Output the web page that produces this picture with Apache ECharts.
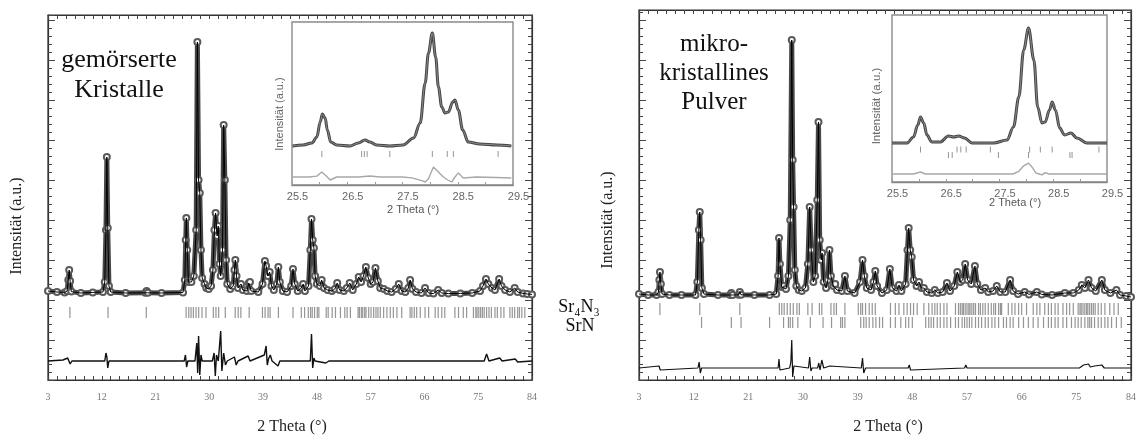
<!DOCTYPE html>
<html>
<head>
<meta charset="utf-8">
<script src="https://cdn.jsdelivr.net/npm/echarts@6/dist/echarts.min.js"></script>
<style>
  html, body { margin: 0; padding: 0; background: #fff; }
  #chart { width: 1139px; height: 436px; }
</style>
</head>
<body>
<div id="chart"></div>
<script>
// ---------- Ground crystals (left panel): [2theta, counts] ----------
const crystalProfile = [
  [3.0, 450], [4.5, 400], [5.8, 380], [6.2, 450], [6.4, 1000], [6.55, 1500], [6.7, 950], [6.9, 420],
  [8.5, 350], [10.5, 380], [12.2, 400], [12.5, 900], [12.7, 3500], [12.85, 7150], [13.0, 3600], [13.2, 700],
  [13.5, 400], [16, 350], [19.3, 360], [19.5, 450], [19.7, 360], [22, 350], [25.6, 380], [25.9, 1000],
  [26.05, 3000], [26.15, 4100], [26.3, 2500], [26.5, 900], [26.75, 1000], [27.0, 900], [27.4, 1200],
  [27.8, 3500], [28.0, 12900], [28.2, 6000], [28.4, 5350], [28.6, 2500], [28.8, 1100], [29.2, 800],
  [29.5, 600], [29.9, 550], [30.3, 700], [30.6, 1500], [30.85, 3500], [31.05, 4350], [31.3, 3200],
  [31.5, 3700], [31.7, 1800], [31.9, 1200], [32.2, 2500], [32.4, 8750], [32.6, 6000], [32.8, 2000],
  [33.0, 800], [33.5, 550], [34.0, 700], [34.2, 1500], [34.35, 2000], [34.55, 1200], [34.8, 600],
  [35.3, 800], [35.6, 500], [36.3, 450], [36.6, 850], [36.8, 900], [37.0, 450], [38.2, 400], [38.9, 800],
  [39.3, 1950], [39.5, 1700], [39.8, 1200], [40.1, 1400], [40.4, 700], [40.8, 500], [41.3, 800],
  [41.55, 1650], [41.8, 900], [42.3, 450], [43.0, 400], [43.7, 700], [44.0, 1550], [44.3, 800],
  [44.8, 450], [45.4, 600], [45.7, 800], [46.0, 450], [46.6, 700], [46.9, 2500], [47.1, 4050],
  [47.3, 3000], [47.5, 2600], [47.7, 1200], [48.0, 800], [48.5, 700], [48.8, 1000], [49.2, 600],
  [49.8, 500], [50.5, 450], [51.0, 550], [51.4, 850], [51.8, 500], [52.5, 450], [53.0, 600], [53.5, 850],
  [54.0, 500], [54.6, 800], [55.0, 1150], [55.4, 900], [55.8, 1200], [56.2, 1650], [56.6, 1100],
  [57.0, 800], [57.4, 900], [57.8, 1600], [58.2, 950], [58.6, 600], [59.2, 550], [59.8, 450], [60.5, 400],
  [61.2, 550], [61.7, 800], [62.2, 450], [62.8, 400], [63.3, 600], [63.6, 1000], [64.0, 550], [64.6, 400],
  [65.5, 350], [66.1, 600], [66.7, 350], [67.5, 320], [68.3, 500], [68.9, 350], [70, 320], [72, 330],
  [74, 350], [75.3, 450], [75.8, 700], [76.3, 1050], [76.7, 800], [77.3, 600], [77.8, 500], [78.5, 1050],
  [78.9, 700], [79.5, 500], [80.3, 400], [81.1, 600], [81.6, 400], [82.5, 330], [83.2, 300], [84, 280]
];
const crystalDiff = [
  [3, 0], [5.5, 50], [6.3, 150], [6.7, -150], [7, 0], [12.5, 0], [12.7, 400], [12.85, 200], [13.0, -350],
  [13.2, 0], [25.8, 0], [26.0, 300], [26.2, -300], [26.4, 0], [27.6, 0], [27.9, 900], [28.05, -600],
  [28.2, 1250], [28.4, -700], [28.6, 300], [28.8, 0], [30.5, 0], [30.8, 400], [31.0, -750], [31.2, 300],
  [31.5, 0], [31.7, 0], [31.9, 1500], [32.1, -500], [32.4, 400], [32.7, -200], [33, 0], [34.2, 200],
  [34.5, -200], [34.8, 0], [36.5, 250], [36.8, 0], [39.2, 300], [39.5, 750], [39.7, -200], [39.9, 100],
  [40.2, 300], [40.5, 0], [41.5, -250], [41.8, 0], [46.9, 0], [47.1, 1350], [47.3, -350], [47.5, 150],
  [47.7, 0], [49.5, -100], [50, 0], [57, 0], [57.3, 100], [57.6, 0], [76.0, 0], [76.4, 350], [76.8, 0],
  [78.6, 150], [79, 0], [81.2, 100], [81.6, -50], [84, 0]
];
const crystalReflections = [
  6.67, 13.05, 19.45, 26.11, 26.56, 26.94, 27.33, 27.78, 28.22, 28.78, 29.44, 30.67, 31.11, 31.56, 32.67,
  34.33, 34.83, 35.28, 36.67, 38.89, 39.33, 39.83, 40.17, 41.56, 44.0, 45.39, 45.94, 46.56, 46.94, 47.22,
  47.61, 48.06, 48.33, 49.56, 49.89, 50.56, 51.11, 51.94, 52.67, 53.06, 53.61, 54.89, 55.11, 55.44, 55.67,
  56.0, 56.22, 56.67, 57.06, 57.5, 57.89, 58.22, 58.61, 59.17, 59.72, 60.28, 60.8, 61.39, 62.2, 63.6, 63.9,
  64.3, 64.7, 65.3, 66.1, 66.7, 67.8, 68.3, 68.9, 69.4, 71.1, 71.7, 72.5, 73.05, 74.2, 74.6, 74.8, 75.1,
  75.4, 75.7, 76.0, 76.4, 76.8, 77.2, 77.8, 78.2, 78.8, 79.3, 80.3, 80.7, 81.1, 81.6, 81.9, 82.3, 82.8
];
// zoomed range 25.5 - 29.5 deg
const crystalZoomProfile = [
  [25.51, 290], [25.70, 400], [25.86, 620], [25.95, 1280], [26.01, 2930], [26.05, 3810], [26.10, 3370],
  [26.14, 2050], [26.20, 730], [26.31, 400], [26.55, 290], [26.70, 620], [26.82, 950], [26.91, 730],
  [27.03, 400], [27.27, 290], [27.51, 400], [27.70, 1170], [27.82, 2820], [27.91, 7220], [27.97, 10520],
  [28.04, 12720], [28.10, 10080], [28.15, 6780], [28.21, 4580], [28.27, 3920], [28.33, 4030], [28.41, 5130],
  [28.45, 5350], [28.51, 4250], [28.59, 2050], [28.69, 730], [28.90, 510], [29.20, 400], [29.47, 290]
];
const crystalZoomDiff = [
  [25.51, 0], [25.8, 0], [25.95, 100], [26.04, 550], [26.12, 100], [26.19, -330], [26.31, 0], [26.7, 0],
  [26.91, 110], [27.1, 0], [27.5, 0], [27.67, -100], [27.85, -400], [27.91, -550], [27.97, -200],
  [28.06, 1100], [28.15, 550], [28.24, 0], [28.32, -330], [28.39, -550], [28.45, 0], [28.51, 450],
  [28.6, -110], [28.84, 0], [29.2, -50], [29.47, -110]
];
const crystalZoomReflections = [26.04, 26.76, 26.81, 26.86, 27.27, 28.04, 28.31, 28.42, 29.23];

// ---------- Microcrystalline powder (right panel) ----------
const powderProfile = [
  [3.0, 300], [4.5, 250], [5.9, 250], [6.2, 400], [6.35, 1000], [6.45, 1400], [6.6, 800], [6.8, 300],
  [8, 250], [10, 250], [12.3, 250], [12.6, 900], [12.85, 3500], [13.0, 4400], [13.15, 3000], [13.35, 600],
  [13.7, 300], [16, 250], [18.0, 250], [18.2, 350], [18.4, 250], [19.4, 260], [19.6, 400], [19.8, 260],
  [22, 250], [24.5, 250], [25.6, 300], [25.9, 1200], [26.05, 3100], [26.2, 1800], [26.5, 650], [26.8, 700],
  [27.2, 550], [27.6, 1200], [27.9, 4000], [28.15, 13000], [28.3, 7000], [28.45, 4650], [28.65, 1500],
  [28.9, 700], [29.3, 500], [29.8, 450], [30.4, 600], [30.8, 1800], [31.1, 4650], [31.35, 2500],
  [31.7, 900], [32.0, 1200], [32.35, 5000], [32.55, 8900], [32.75, 3000], [33.0, 2000], [33.15, 2350],
  [33.4, 900], [33.8, 600], [34.1, 1000], [34.35, 2500], [34.6, 1200], [35.0, 700], [35.3, 800],
  [35.6, 500], [36.4, 450], [36.9, 1200], [37.3, 450], [38.5, 350], [39.4, 900], [39.8, 2000],
  [40.1, 1200], [40.5, 600], [41.2, 500], [41.6, 900], [41.9, 1450], [42.2, 700], [43.0, 350], [43.8, 500],
  [44.3, 1550], [44.7, 600], [45.4, 450], [45.8, 750], [46.2, 450], [46.9, 800], [47.2, 2500],
  [47.4, 3600], [47.65, 2500], [47.9, 2150], [48.2, 1000], [48.7, 700], [49.1, 900], [49.5, 600],
  [49.9, 600], [50.4, 400], [51.2, 350], [51.7, 500], [52.2, 350], [53.0, 400], [53.7, 850], [54.2, 450],
  [54.9, 700], [55.4, 1400], [55.9, 900], [56.3, 1000], [56.7, 1800], [57.1, 1000], [57.7, 800],
  [58.3, 1700], [58.7, 800], [59.3, 500], [60.0, 600], [60.5, 400], [61.3, 450], [61.9, 700], [62.5, 400],
  [63.3, 400], [64.1, 1000], [64.6, 450], [65.4, 300], [66.5, 400], [67.2, 280], [68.5, 400], [69.3, 280],
  [71, 250], [73.1, 350], [74.5, 350], [75.4, 500], [75.9, 750], [76.4, 600], [77.0, 1000], [77.5, 600],
  [78.2, 450], [79.2, 1000], [79.7, 500], [80.6, 350], [81.6, 500], [82.2, 250], [83.2, 200], [84, 150]
];
const powderDiff = [
  [3, 0], [6.3, 100], [6.5, -100], [6.7, 0], [12.7, 0], [12.9, 300], [13.1, -250], [13.3, 0], [25.9, 0],
  [26.05, 450], [26.2, -100], [26.4, 0], [27.8, 0], [28.0, 300], [28.15, 1400], [28.3, -450], [28.5, 100],
  [28.7, 0], [30.9, 0], [31.1, 550], [31.3, -150], [31.5, 0], [32.4, 0], [32.6, 250], [32.8, -100],
  [33.1, 400], [33.4, 0], [34.4, 100], [34.7, 0], [39.6, 0], [39.8, 500], [40.0, -250], [40.3, 0],
  [47.3, 0], [47.5, 150], [47.7, -100], [48, 0], [56.6, 0], [56.8, 150], [57, 0], [75.5, 0], [76.2, 150],
  [76.5, 50], [77.0, 200], [77.3, 50], [78.0, 100], [79.2, 150], [79.6, 0], [84, 0]
];
const powderReflectionsSr4N3 = [
  6.44, 13.0, 19.6, 26.1, 26.5, 26.9, 27.4, 27.9, 28.4, 29.0, 29.4, 30.8, 31.5, 32.7, 33.1, 34.6, 35.1,
  35.5, 36.9, 39.1, 39.5, 39.8, 40.3, 40.9, 41.4, 41.9, 44.4, 45.2, 45.8, 46.6, 47.15, 47.7, 48.2, 48.8,
  49.9, 50.7, 51.25, 51.7, 52.1, 52.6, 53.2, 53.7, 55.1, 55.6, 55.9, 56.2, 56.4, 56.7, 57.0, 57.3, 57.5,
  57.8, 58.1, 58.4, 58.9, 59.2, 59.6, 60.0, 60.5, 61.0, 61.4, 61.7, 62.2, 62.5, 62.7, 63.8, 64.4, 64.9,
  65.5, 66.0, 66.8, 67.9, 68.5, 69.0, 69.8, 70.4, 70.9, 71.5, 72.0, 72.8, 73.4, 73.9, 74.5, 75.3, 75.6,
  75.8, 76.1, 76.4, 76.7, 76.9, 77.2, 77.5, 77.8, 78.1, 78.6, 79.1, 79.7, 80.5, 81.2, 81.9
];
const powderReflectionsSrN = [
  13.3, 18.2, 19.8, 24.5, 26.8, 27.6, 27.9, 28.3, 29.15, 31.2, 33.3, 34.7, 36.2, 36.5, 36.9, 39.5, 40.0,
  40.4, 40.9, 41.5, 42.0, 42.6, 43.1, 44.4, 45.2, 46.1, 46.9, 47.4, 48.0, 50.2, 50.7, 51.1, 51.5, 52.1,
  52.6, 53.2, 53.7, 54.3, 55.1, 55.6, 56.2, 56.6, 57.0, 57.4, 57.8, 58.4, 58.9, 59.4, 60.0, 60.5, 61.1,
  61.6, 62.2, 63.0, 63.5, 64.1, 64.6, 65.5, 66.3, 67.1, 67.9, 68.7, 69.6, 70.4, 70.9, 71.5, 72.0, 72.8,
  73.4, 74.2, 74.8, 75.3, 75.8, 76.4, 76.9, 77.2, 77.5, 78.0, 78.6, 79.1, 79.7, 80.2, 80.8, 81.6, 82.4
];
const powderZoomProfile = [
  [25.5, 290], [25.78, 290], [25.90, 950], [25.98, 2270], [26.03, 3150], [26.09, 2490], [26.15, 1170],
  [26.24, 400], [26.40, 400], [26.55, 1060], [26.65, 950], [26.74, 1060], [26.85, 840], [26.99, 290],
  [27.39, 290], [27.64, 620], [27.76, 2050], [27.86, 5350], [27.95, 10520], [28.04, 12940], [28.14, 9420],
  [28.21, 4250], [28.29, 2490], [28.35, 2600], [28.43, 3920], [28.48, 4800], [28.54, 3920], [28.62, 1940],
  [28.71, 1170], [28.83, 1390], [28.94, 840], [29.13, 290], [29.5, 290]
];
const powderZoomDiff = [
  [25.5, 0], [25.9, 0], [26.03, 220], [26.12, 0], [27.75, 0], [27.86, 300], [27.95, 900], [28.04, 1200],
  [28.1, 800], [28.18, 100], [28.24, 0], [28.29, -100], [28.35, 150], [28.42, 0], [29.5, 0]
];
const powderZoomSr4N3 = [26.03, 26.71, 26.78, 26.88, 27.33, 28.06, 28.26, 28.48, 29.35];
const powderZoomSrN = [26.55, 26.62, 27.48, 28.04, 28.81, 28.85];

// Tick labels
const mainTickLabels = [3, 12, 21, 30, 39, 48, 57, 66, 75, 84];
const zoomTickLabels = [25.5, 26.5, 27.5, 28.5, 29.5];

// Vertical placement of the difference curves and reflection rows (in counts)
const CRYSTAL_DIFF_BASE = -3050, CRYSTAL_REFL_ROW = -625;
const POWDER_DIFF_BASE = -3400, POWDER_REFL_ROW1 = -450, POWDER_REFL_ROW2 = -1125;
const ZOOM_DIFF_BASE = -3120, CRYSTAL_ZOOM_REFL_ROW = -590, POWDER_ZOOM_ROW1 = -425, POWDER_ZOOM_ROW2 = -1030;

const SERIF = '"Liberation Serif", "Times New Roman", serif';
const SANS = '"Liberation Sans", Arial, sans-serif';

const near = (a, b) => Math.abs(a - b) < 1e-6;
const mainFmt = v => mainTickLabels.some(t => near(t, v)) ? String(Math.round(v)) : '';
const zoomFmt = v => zoomTickLabels.some(t => near(t, v)) ? v.toFixed(1) : '';

function mainX(grid, position, labels) {
  return {
    type: 'value', gridIndex: grid, position: position, min: 3, max: 84, interval: 1.5,
    axisLine: { show: true, onZero: false, lineStyle: { color: '#333', width: 1.2 } },
    axisTick: { show: true, inside: true, length: 4, lineStyle: { color: '#444' } },
    axisLabel: { show: labels, formatter: mainFmt, margin: 12, color: '#777', fontFamily: SERIF, fontSize: 10 },
    splitLine: { show: false }
  };
}
function mainY(grid, position, max) {
  return {
    type: 'value', gridIndex: grid, position: position, min: -4000, max: max, interval: 2000,
    axisLine: { show: true, onZero: false, lineStyle: { color: '#333', width: 1.2 } },
    axisTick: { show: true, inside: true, length: 7, lineStyle: { color: '#444' } },
    minorTick: { show: true, splitNumber: 5, length: 4, lineStyle: { color: '#444' } },
    axisLabel: { show: false }, splitLine: { show: false }, minorSplitLine: { show: false }
  };
}
function zoomX(grid) {
  return {
    type: 'value', gridIndex: grid, min: 25.5, max: 29.5, interval: 0.5, z: 12,
    axisLine: { show: true, onZero: false, lineStyle: { color: '#888', width: 1.4 } },
    axisTick: { show: true, inside: true, length: 3, lineStyle: { color: '#999' } },
    axisLabel: { formatter: zoomFmt, margin: 6, color: '#666', fontFamily: SANS, fontSize: 11, padding: [0, 0, 0, 11] },
    splitLine: { show: false }
  };
}
function zoomY(grid, max) {
  return { type: 'value', gridIndex: grid, min: -4000, max: max, show: false,
    axisLine: { onZero: false }, splitLine: { show: false } };
}

// observed points (hollow circles on a broad grey trace) plus the fitted profile on top
function profileSeries(data, xi, yi) {
  return [
    { type: 'line', xAxisIndex: xi, yAxisIndex: yi, data: data, z: 3,
      symbol: 'emptyCircle', symbolSize: 6, showSymbol: true,
      itemStyle: { color: '#5a5a5a', borderWidth: 1 },
      lineStyle: { color: '#484848', width: 5 } },
    { type: 'line', xAxisIndex: xi, yAxisIndex: yi, data: data, z: 4,
      showSymbol: false, lineStyle: { color: '#000', width: 1 } }
  ];
}
function diffSeries(data, base, xi, yi, color, width, z) {
  return { type: 'line', xAxisIndex: xi, yAxisIndex: yi, z: z || 3, showSymbol: false,
    data: data.map(p => [p[0], p[1] + base]),
    lineStyle: { color: color, width: width } };
}
function reflSeries(list, row, xi, yi, size, z) {
  return { type: 'scatter', xAxisIndex: xi, yAxisIndex: yi, z: z || 3,
    symbol: 'rect', symbolSize: size,
    itemStyle: { color: '#7a7a7a' },
    data: list.map(x => [x, row]) };
}
function zoomProfileSeries(data, xi, yi) {
  return [
    { type: 'line', xAxisIndex: xi, yAxisIndex: yi, data: data, z: 14, smooth: 0.35, smoothMonotone: 'x',
      showSymbol: false, lineStyle: { color: '#444', width: 3 } },
    { type: 'line', xAxisIndex: xi, yAxisIndex: yi, data: data, z: 15, smooth: 0.35, smoothMonotone: 'x',
      showSymbol: false, lineStyle: { color: '#8c8c8c', width: 1 } }
  ];
}

const chart = echarts.init(document.getElementById('chart'), null, { renderer: 'canvas' });

chart.setOption({
  animation: false,
  backgroundColor: '#fff',
  grid: [
    { left: 48, top: 15, width: 484, height: 365, show: true, borderColor: '#333', borderWidth: 1.2, backgroundColor: 'transparent' },
    { left: 639, top: 10, width: 494, height: 370, show: true, borderColor: '#333', borderWidth: 1.2, backgroundColor: 'transparent' },
    { left: 292, top: 22, width: 221, height: 163, show: true, z: 10, borderColor: '#8a8a8a', borderWidth: 1.4, backgroundColor: '#fff' },
    { left: 892, top: 15, width: 215, height: 167, show: true, z: 10, borderColor: '#8a8a8a', borderWidth: 1.4, backgroundColor: '#fff' }
  ],
  xAxis: [
    mainX(0, 'bottom', true), mainX(0, 'top', false),
    mainX(1, 'bottom', true), mainX(1, 'top', false),
    zoomX(2), zoomX(3)
  ],
  yAxis: [
    mainY(0, 'left', 14250), mainY(0, 'right', 14250),
    mainY(1, 'left', 14500), mainY(1, 'right', 14500),
    zoomY(2, 13930), zoomY(3, 14370)
  ],
  series: [
    ...profileSeries(crystalProfile, 0, 0),
    diffSeries(crystalDiff, CRYSTAL_DIFF_BASE, 0, 0, '#111', 1.4),
    reflSeries(crystalReflections, CRYSTAL_REFL_ROW, 0, 0, [1.2, 11]),

    ...profileSeries(powderProfile, 2, 2),
    diffSeries(powderDiff, POWDER_DIFF_BASE, 2, 2, '#111', 1.2),
    reflSeries(powderReflectionsSr4N3, POWDER_REFL_ROW1, 2, 2, [1.2, 12]),
    reflSeries(powderReflectionsSrN, POWDER_REFL_ROW2, 2, 2, [1.2, 11]),

    ...zoomProfileSeries(crystalZoomProfile, 4, 4),
    diffSeries(crystalZoomDiff, ZOOM_DIFF_BASE, 4, 4, '#a8a8a8', 1.4, 14),
    reflSeries(crystalZoomReflections, CRYSTAL_ZOOM_REFL_ROW, 4, 4, [1, 6], 14),

    ...zoomProfileSeries(powderZoomProfile, 5, 5),
    diffSeries(powderZoomDiff, ZOOM_DIFF_BASE, 5, 5, '#a8a8a8', 1.4, 14),
    reflSeries(powderZoomSr4N3, POWDER_ZOOM_ROW1, 5, 5, [1, 6], 14),
    reflSeries(powderZoomSrN, POWDER_ZOOM_ROW2, 5, 5, [1, 6], 14)
  ],
  graphic: [
    { type: 'text', x: 119, y: 75, z: 20, style: { text: 'gemörserte\nKristalle', font: '26px ' + SERIF, fill: '#111', textAlign: 'center', textVerticalAlign: 'middle', lineHeight: 30 } },
    { type: 'text', x: 714, y: 73, z: 20, style: { text: 'mikro-\nkristallines\nPulver', font: '25px ' + SERIF, fill: '#111', textAlign: 'center', textVerticalAlign: 'middle', lineHeight: 29 } },
    { type: 'text', x: 17, y: 226, rotation: Math.PI / 2, z: 20, style: { text: 'Intensität (a.u.)', font: '16px ' + SERIF, fill: '#222', textAlign: 'center', textVerticalAlign: 'middle' } },
    { type: 'text', x: 608, y: 220, rotation: Math.PI / 2, z: 20, style: { text: 'Intensität (a.u.)', font: '16px ' + SERIF, fill: '#222', textAlign: 'center', textVerticalAlign: 'middle' } },
    { type: 'text', x: 292, y: 427, z: 20, style: { text: '2 Theta (°)', font: '16px ' + SERIF, fill: '#222', textAlign: 'center', textVerticalAlign: 'middle' } },
    { type: 'text', x: 888, y: 427, z: 20, style: { text: '2 Theta (°)', font: '16px ' + SERIF, fill: '#222', textAlign: 'center', textVerticalAlign: 'middle' } },
    { type: 'text', x: 579, y: 307, z: 20, style: { text: 'Sr₄N₃', font: '18px ' + SERIF, fill: '#111', textAlign: 'center', textVerticalAlign: 'middle' } },
    { type: 'text', x: 580, y: 326, z: 20, style: { text: 'SrN', font: '18px ' + SERIF, fill: '#111', textAlign: 'center', textVerticalAlign: 'middle' } },
    { type: 'text', x: 280, y: 114, rotation: Math.PI / 2, z: 20, style: { text: 'Intensität (a.u.)', font: '11px ' + SANS, fill: '#666', textAlign: 'center', textVerticalAlign: 'middle' } },
    { type: 'text', x: 877, y: 106, rotation: Math.PI / 2, z: 20, style: { text: 'Intensität (a.u.)', font: '11.5px ' + SANS, fill: '#666', textAlign: 'center', textVerticalAlign: 'middle' } },
    { type: 'text', x: 413, y: 210, z: 20, style: { text: '2 Theta (°)', font: '11px ' + SANS, fill: '#555', textAlign: 'center', textVerticalAlign: 'middle' } },
    { type: 'text', x: 1015, y: 203, z: 20, style: { text: '2 Theta (°)', font: '11px ' + SANS, fill: '#555', textAlign: 'center', textVerticalAlign: 'middle' } }
  ]
});
</script>
</body>
</html>
